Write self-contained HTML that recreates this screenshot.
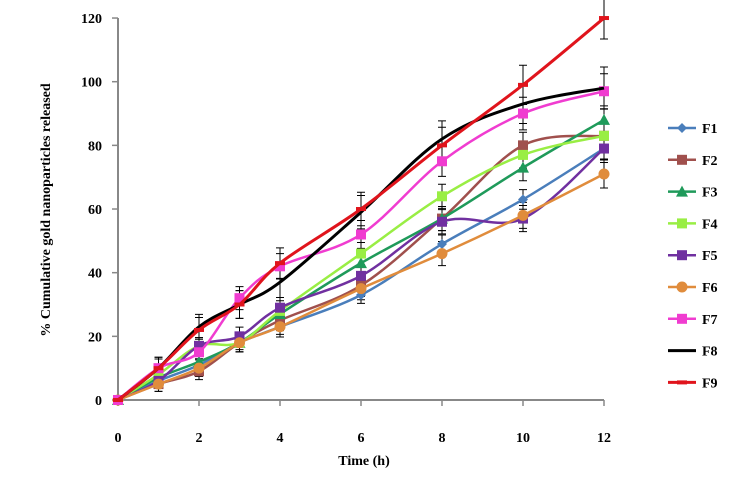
<!DOCTYPE html>
<html><head><meta charset="utf-8"><style>
body{margin:0;background:#fff;}
svg text{font-family:"Liberation Serif",serif;font-weight:bold;}
</style></head><body>
<svg id="chart" width="748" height="486" viewBox="0 0 748 486" xmlns="http://www.w3.org/2000/svg">
<g id="axes"></g><g id="errs"></g><g id="lines"></g><g id="legend"></g>
<text x="364" y="465" font-size="14" text-anchor="middle">Time (h)</text>
<text transform="translate(50,210) rotate(-90)" font-size="14" text-anchor="middle">% Cumulative gold nanoparticles released</text>
</svg>
<script>
const times=[0,1,2,3,4,6,8,10,12];
const xTicks=[0,2,4,6,8,10,12];
const yTicks=[0,20,40,60,80,100,120];
const names=["F1","F2","F3","F4","F5","F6","F7","F8","F9"];
const colors=["#4a7ebb","#a0504d","#1f9a5a","#99ee44","#7030a0","#e08c3c","#f03cd0","#000000","#e0141c"];
const markers=["diamond","square","triangle","square","square","circle","square","none","dash"];
const F1=[0,6,11,18,23,33,49,63,79];
const F2=[0,5,9,18,25,36,57,80,83];
const F3=[0,7,12,18,27,43,57,73,88];
const F4=[0,8,17,18,28,46,64,77,83];
const F5=[0,6,17,20,29,39,56,57,79];
const F6=[0,5,10,18,23,35,46,58,71];
const F7=[0,10,15,32,42,52,75,90,97];
const F8=[0,10,23,30,37,59,82,93,98];
const F9=[0,10,22,30,43,60,80,99,120];
const series=[F1,F2,F3,F4,F5,F6,F7,F8,F9];
const errs=[1.5,2,2,2,2,2,2.5,3,3];
const NS="http://www.w3.org/2000/svg";
const X=t=>118+t*40.5, Y=v=>400-v*3.183;
function el(tag,attrs,parent){const e=document.createElementNS(NS,tag);for(const k in attrs)e.setAttribute(k,attrs[k]);parent.appendChild(e);return e;}
const axes=document.getElementById('axes');
let a=el('line',{x1:118,y1:18,x2:118,y2:400,stroke:'#888','stroke-width':2},axes);


a=el('line',{x1:118,y1:400,x2:604,y2:400,stroke:'#888','stroke-width':2},axes);


yTicks.forEach(v=>{el('line',{x1:112,x2:118,y1:Y(v),y2:Y(v),stroke:'#888','stroke-width':1.5},axes);
 const t=el('text',{x:102,y:Y(v)+5,'font-size':14,'text-anchor':'end'},axes);t.textContent=v;
 
 });
xTicks.forEach(v=>{el('line',{x1:X(v),x2:X(v),y1:400,y2:406,stroke:'#888','stroke-width':1.5},axes);
 const t=el('text',{x:X(v),y:442,'font-size':14,'text-anchor':'middle'},axes);t.textContent=v;
 
 });
function smooth(pts){let d=`M${pts[0][0]},${pts[0][1]}`;for(let i=0;i<pts.length-1;i++){const p0=pts[Math.max(i-1,0)],p1=pts[i],p2=pts[i+1],p3=pts[Math.min(i+2,pts.length-1)];
 const c1=[p1[0]+(p2[0]-p0[0])/6,p1[1]+(p2[1]-p0[1])/6],c2=[p2[0]-(p3[0]-p1[0])/6,p2[1]-(p3[1]-p1[1])/6];
 d+=`C${c1[0]},${c1[1]} ${c2[0]},${c2[1]} ${p2[0]},${p2[1]}`;}return d;}
function marker(g,type,x,y,c){
 if(type==='diamond')el('path',{d:`M${x},${y-5}L${x+5},${y}L${x},${y+5}L${x-5},${y}Z`,fill:c},g);
 else if(type==='square')el('rect',{x:x-5,y:y-5,width:10,height:10,fill:c},g);
 else if(type==='triangle')el('path',{d:`M${x},${y-6}L${x+6},${y+5}L${x-6},${y+5}Z`,fill:c},g);
 else if(type==='circle')el('circle',{cx:x,cy:y,r:5.5,fill:c},g);
 else if(type==='dash')el('rect',{x:x-5,y:y-2,width:10,height:4,fill:c},g);}
const eg=document.getElementById('errs'),lg=document.getElementById('lines'),leg=document.getElementById('legend');
series.forEach((s,i)=>{
 s.forEach((v,j)=>{if(j===0)return;const x=X(times[j]),e=errs[i]*(1+j*0.15);
  el('path',{d:`M${x},${Y(v+e)}V${Y(v-e)}M${x-4},${Y(v+e)}H${x+4}M${x-4},${Y(v-e)}H${x+4}`,stroke:'#000','stroke-width':1,fill:'none'},eg);});
 const g=el('g',{},lg);
 
 
 const pts=s.map((v,j)=>[X(times[j]),Y(v)]);
 el('path',{d:smooth(pts),stroke:colors[i],'stroke-width':i>=7?3:2.5,fill:'none'},g);
 pts.forEach(p=>marker(g,markers[i],p[0],p[1],colors[i]));
 const ly=128+i*31.8;
 const lgi=el('g',{},leg);
 
 
 el('line',{x1:668,x2:696,y1:ly,y2:ly,stroke:colors[i],'stroke-width':i>=7?3:2.5},lgi);
 marker(lgi,markers[i],682,ly,colors[i]);
 const t=el('text',{x:702,y:ly+5,'font-size':14},lgi);t.textContent=names[i];
});
</script>
</body></html>
